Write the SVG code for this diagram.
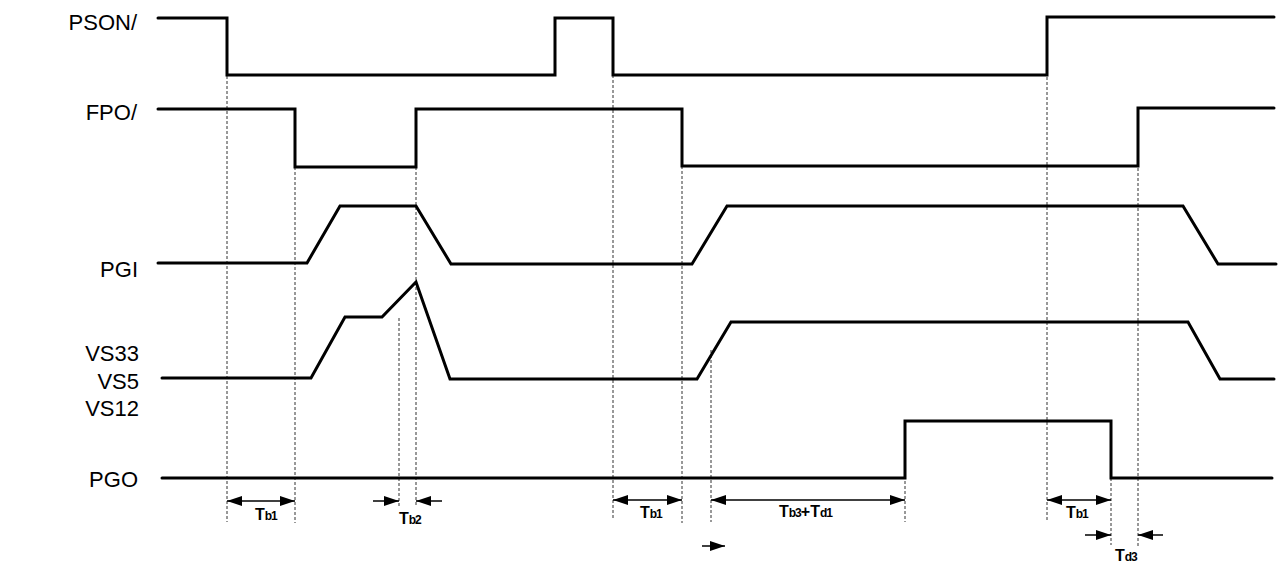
<svg xmlns="http://www.w3.org/2000/svg" width="1282" height="563" viewBox="0 0 1282 563">
<style>
.sig{fill:none;stroke:#000;stroke-width:3;stroke-linejoin:miter;stroke-linecap:round}
.dash{fill:none;stroke:#333;stroke-width:1;stroke-dasharray:3,2}
.arr{fill:none;stroke:#000;stroke-width:1.5}
.lbl{font-family:"Liberation Sans",Arial,sans-serif;font-size:22px;fill:#000;text-anchor:end}
.t{font-family:"Liberation Sans",Arial,sans-serif;font-weight:bold;font-size:16px;fill:#000}
.s{font-size:12px;letter-spacing:-1px}
</style>
<defs>
<marker id="ah" markerUnits="userSpaceOnUse" markerWidth="16" markerHeight="10" refX="15" refY="5" orient="auto-start-reverse">
<path d="M0,0 L15,5 L0,10 z" fill="#000"/>
</marker>
</defs>
<rect width="1282" height="563" fill="#fff"/>
<g id="guides">
<path class="dash" d="M227,76 V522"/>
<path class="dash" d="M295,167 V523"/>
<path class="dash" d="M399,318 V508"/>
<path class="dash" d="M416,167 V507"/>
<path class="dash" d="M613,75 V520"/>
<path class="dash" d="M682,166 V523"/>
<path class="dash" d="M711,350 V522"/>
<path class="dash" d="M905,421 V522"/>
<path class="dash" d="M1047,17 V520"/>
<path class="dash" d="M1138,108 V547"/>
<path class="dash" d="M1111,478 V545"/>
</g>
<g id="PSON">
<text class="lbl" x="137" y="30">PSON/</text>
<path class="sig" d="M158,18 H227 V75 H555 V18 H613 V75 H1047 V17 H1274"/>
</g>
<g id="FPO">
<text class="lbl" x="137" y="120">FPO/</text>
<path class="sig" d="M158,109 H295 V167 H416 V109 H682 V166 H1138 V108 H1274"/>
</g>
<g id="PGI">
<text class="lbl" x="138" y="277">PGI</text>
<path class="sig" d="M158,263 H307 L340,206 H416 L451,264 H692 L727,206 H1183 L1218,264 H1276"/>
</g>
<g id="VS">
<text class="lbl" x="139" y="361">VS33</text>
<text class="lbl" x="139" y="389">VS5</text>
<text class="lbl" x="139" y="416">VS12</text>
<path class="sig" d="M162,378 H311 L345,317 H382 L416,282 L450,379 H697 L731,322 H1188 L1220,379 H1274"/>
</g>
<g id="PGO">
<text class="lbl" x="138" y="487">PGO</text>
<path class="sig" d="M162,478 H905 V421 H1111 V478 H1272"/>
</g>
<g id="connectors">
<path class="arr" d="M227,501 H295" marker-start="url(#ah)" marker-end="url(#ah)"/>
<path class="arr" d="M373,501 H399" marker-end="url(#ah)"/>
<path class="arr" d="M442,501 H416" marker-end="url(#ah)"/>
<path class="arr" d="M613,500 H682" marker-start="url(#ah)" marker-end="url(#ah)"/>
<path class="arr" d="M711,500 H905" marker-start="url(#ah)" marker-end="url(#ah)"/>
<path class="arr" d="M702,546 H725" marker-end="url(#ah)"/>
<path class="arr" d="M1047,500 H1111" marker-start="url(#ah)" marker-end="url(#ah)"/>
<path class="arr" d="M1085,535 H1111" marker-end="url(#ah)"/>
<path class="arr" d="M1163,535 H1138" marker-end="url(#ah)"/>
</g>
<g id="labels">
<text class="t" x="255" y="520">T<tspan class="s">b1</tspan></text>
<text class="t" x="399" y="524">T<tspan class="s">b2</tspan></text>
<text class="t" x="640" y="518">T<tspan class="s">b1</tspan></text>
<text class="t" x="779" y="517">T<tspan class="s">b3</tspan>+T<tspan class="s">d1</tspan></text>
<text class="t" x="1066" y="518">T<tspan class="s">b1</tspan></text>
<text class="t" x="1115" y="561">T<tspan class="s">d3</tspan></text>
</g>
</svg>
